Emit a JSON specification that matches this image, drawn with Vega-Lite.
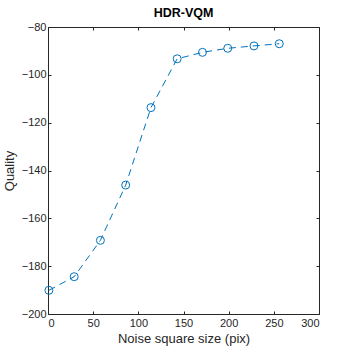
{
  "$schema": "https://vega.github.io/schema/vega-lite/v6.json",
  "autosize": "none",
  "width": 271,
  "height": 287,
  "padding": {"left": 48, "top": 27, "right": 35, "bottom": 40},
  "background": "white",
  "title": {"text": "HDR-VQM", "font": "Liberation Sans", "fontSize": 12.5, "fontWeight": "bold", "color": "black", "offset": 2},
  "config": {
    "view": {"stroke": "#262626", "strokeWidth": 1},
    "axis": {
      "labelFont": "Liberation Sans", "labelFontSize": 11, "labelColor": "#262626",
      "titleFont": "Liberation Sans", "titleFontSize": 13, "titleFontWeight": "normal", "titleColor": "#262626",
      "grid": false, "domain": false, "tickColor": "#262626", "tickSize": -3, "tickWidth": 1
    }
  },
  "data": {"values": [
    {"x": 1, "q": -190.1},
    {"x": 29, "q": -184.4},
    {"x": 58, "q": -169.2},
    {"x": 86, "q": -146.1},
    {"x": 114, "q": -113.7},
    {"x": 143, "q": -93.3},
    {"x": 171, "q": -90.6},
    {"x": 199, "q": -88.9},
    {"x": 228, "q": -87.9},
    {"x": 256, "q": -87.0}
  ]},
  "layer": [
    {"mark": {"type": "line", "color": "#0072BD", "strokeWidth": 1, "strokeDash": [7, 5]},
      "encoding": {
        "x": {"field": "x", "type": "quantitative", "scale": {"domain": [0, 300], "nice": false},
          "axis": {"orient": "bottom", "title": "Noise square size (pix)", "values": [0, 50, 100, 150, 200, 250, 300], "labelPadding": 6, "titlePadding": 4}},
        "y": {"field": "q", "type": "quantitative", "scale": {"domain": [-200, -80], "nice": false, "zero": false},
          "axis": {"orient": "left", "title": "Quality", "values": [-200, -180, -160, -140, -120, -100, -80], "labelPadding": 5, "titlePadding": 5}}
      }},
    {"mark": {"type": "point", "shape": "circle", "filled": false, "color": "#0072BD", "size": 64, "strokeWidth": 1, "opacity": 1},
      "encoding": {
        "x": {"field": "x", "type": "quantitative", "axis": null},
        "y": {"field": "q", "type": "quantitative", "axis": null}
      }},
    {"mark": {"type": "point", "opacity": 0},
      "encoding": {
        "x": {"field": "x", "type": "quantitative", "axis": {"orient": "top", "labels": false, "title": null, "values": [0, 50, 100, 150, 200, 250, 300]}},
        "y": {"field": "q", "type": "quantitative", "axis": {"orient": "right", "labels": false, "title": null, "values": [-200, -180, -160, -140, -120, -100, -80]}}
      }}
  ],
  "resolve": {"axis": {"x": "independent", "y": "independent"}}
}
